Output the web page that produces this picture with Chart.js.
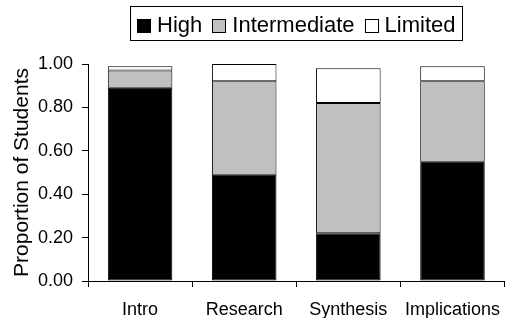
<!DOCTYPE html>
<html>
<head>
<meta charset="utf-8">
<script src="https://cdn.jsdelivr.net/npm/chart.js@4/dist/chart.umd.min.js"></script>
<style>
  html, body { margin: 0; padding: 0; background: #fff; }
  #wrap { width: 512px; height: 318px; position: relative; }
</style>
</head>
<body>
<div id="wrap"><canvas id="myChart"></canvas></div>
<script>
// valores
const categorias = ['Intro', 'Research', 'Synthesis', 'Implications'];
const alto = [0.89, 0.49, 0.22, 0.55];
const intermedio = [0.08, 0.43, 0.60, 0.37];
const limitado = [0.02, 0.08, 0.16, 0.07];
const yTicks = [0, 0.2, 0.4, 0.6, 0.8, 1.0];

const fuente = "'Liberation Sans', Arial, sans-serif";

// leyenda dibujada a mano con su recuadro
const leyendaCaja = {
    id: 'leyendaCaja',
    afterDraw(chart) {
        const ctx = chart.ctx;
        const area = chart.chartArea;
        const sets = chart.data.datasets;
        ctx.save();
        ctx.font = '22px ' + fuente;
        let pad = 7, sq = 14, gap = 6, sep = 10;
        let total = pad * 2;
        sets.forEach((d, i) => {
            total += sq + gap + ctx.measureText(d.label).width;
            if (i < sets.length - 1) total += sep;
        });
        let x = (area.left + area.right) / 2 - total / 2;
        let top = 6, h = 34;
        ctx.strokeStyle = '#000';
        ctx.lineWidth = 1;
        ctx.strokeRect(Math.round(x) + 0.5, top + 0.5, Math.round(total), h);
        let cx = x + pad;
        sets.forEach((d) => {
            ctx.fillStyle = d.backgroundColor;
            ctx.fillRect(Math.round(cx), 19, sq, sq);
            ctx.strokeRect(Math.round(cx) + 0.5, 19.5, sq - 1, sq - 1);
            cx += sq + gap;
            ctx.fillStyle = '#000';
            ctx.textBaseline = 'alphabetic';
            ctx.fillText(d.label, cx, 32);
            cx += ctx.measureText(d.label).width + sep;
        });
        ctx.restore();
    }
};

function crearDataSet(label, datos, color) {
    return {
        label: label,
        data: datos,
        backgroundColor: color,
        borderColor: '#000',
        borderWidth: 1,
        borderSkipped: false,
        categoryPercentage: 0.62,
        barPercentage: 1.0
    };
}

const config = {
    type: 'bar',
    data: {
        labels: categorias,
        datasets: [
            crearDataSet('High', alto, '#000000'),
            crearDataSet('Intermediate', intermedio, '#c0c0c0'),
            crearDataSet('Limited', limitado, '#ffffff')
        ]
    },
    options: {
        responsive: true,
        maintainAspectRatio: false,
        animation: false,
        devicePixelRatio: 1,
        layout: { padding: { top: 64, right: 0, left: 0, bottom: 0 } },
        plugins: {
            legend: { display: false },
            tooltip: { enabled: false }
        },
        scales: {
            x: {
                stacked: true,
                afterFit(scale) { scale.height = 37; },
                grid: { drawOnChartArea: false, drawTicks: true, tickLength: 6, color: '#000', offset: true },
                border: { color: '#000', width: 1 },
                ticks: { color: '#000', font: { family: fuente, size: 18 }, padding: 12, maxRotation: 0 }
            },
            y: {
                stacked: true,
                min: 0,
                max: 1,
                afterFit(scale) { scale.width = 88; },
                afterBuildTicks(scale) { scale.ticks = yTicks.map(v => ({ value: v })); },
                grid: { drawOnChartArea: false, drawTicks: true, tickLength: 6, color: '#000' },
                border: { color: '#000', width: 1 },
                ticks: {
                    color: '#000',
                    font: { family: fuente, size: 18 },
                    padding: 9,
                    callback: v => Number(v).toFixed(2)
                },
                title: {
                    display: true,
                    text: 'Proportion of Students',
                    color: '#000',
                    font: { family: fuente, size: 21 },
                    padding: { top: 10, bottom: 0 }
                }
            }
        }
    },
    plugins: [leyendaCaja]
};

let graf = new Chart(document.querySelector('#myChart'), config);
</script>
</body>
</html>
